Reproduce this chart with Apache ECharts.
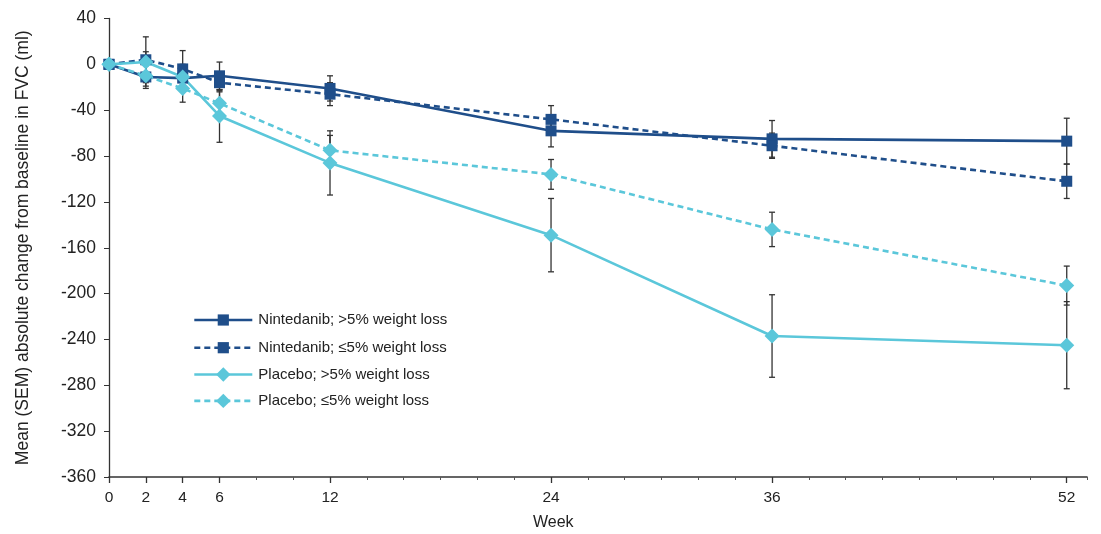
<!DOCTYPE html>
<html>
<head>
<meta charset="utf-8">
<script src="https://cdn.jsdelivr.net/npm/echarts@6/dist/echarts.min.js"></script>
<style>
  html, body { margin: 0; padding: 0; background: #fff; }
  #chart { width: 1101px; height: 534px; }
</style>
</head>
<body>
<div id="chart"></div>
<script>
// Study weeks at which FVC was measured
const weeks = [0, 2, 4, 6, 12, 24, 36, 52];
const weekTickLabels = [0, 2, 4, 6, 12, 24, 36, 52];

// Mean absolute change from baseline in FVC (ml)
const nintGt5 = [0, -11, -12, -10, -21, -58, -65, -67];
const nintLe5 = [0, 4, -4, -16, -26, -48, -71, -102];
const placGt5 = [0, 2, -11, -45, -86, -149, -237, -245];
const placLe5 = [0, -10, -21, -34, -75, -96, -144, -193];

// Standard error of the mean (ml)
const nintGt5Sem = [0, 10, 9, 12, 11, 14, 16, 20];
const nintLe5Sem = [0, 20, 16, 7, 10, 12, 11, 15];
const placGt5Sem = [0, 9, 11, 23, 28, 32, 36, 38];
const placLe5Sem = [0, 9, 12, 10, 13, 13, 15, 17];

const seriesNames = [
  'Nintedanib; >5% weight loss',
  'Nintedanib; \u22645% weight loss',
  'Placebo; >5% weight loss',
  'Placebo; \u22645% weight loss'
];

const DARK = '#1f4e8a';
const LIGHT = '#5bc7da';
const FONT = '"Liberation Sans", Arial, sans-serif';

function pairs(vals) {
  return weeks.map((w, i) => [w, vals[i]]);
}

function errorData(vals, sems) {
  return weeks.map((w, i) => [w, vals[i] - sems[i], vals[i] + sems[i]]);
}

// Vertical whisker with caps, positioned through the axis scales
function renderError(params, api) {
  const x = api.value(0);
  const lo = api.coord([x, api.value(1)]);
  const hi = api.coord([x, api.value(2)]);
  if (Math.abs(lo[1] - hi[1]) < 0.5) return null;
  const cap = 3;
  const style = { stroke: '#333333', lineWidth: 1.3 };
  return {
    type: 'group',
    children: [
      { type: 'line', shape: { x1: lo[0], y1: lo[1], x2: hi[0], y2: hi[1] }, style },
      { type: 'line', shape: { x1: lo[0] - cap, y1: lo[1], x2: lo[0] + cap, y2: lo[1] }, style },
      { type: 'line', shape: { x1: hi[0] - cap, y1: hi[1], x2: hi[0] + cap, y2: hi[1] }, style }
    ]
  };
}

function errorSeries(vals, sems) {
  return {
    type: 'custom',
    xAxisIndex: 0,
    yAxisIndex: 0,
    renderItem: renderError,
    data: errorData(vals, sems),
    z: 1,
    silent: true,
    encode: { x: 0, y: [1, 2] }
  };
}

function lineSeries(name, vals, color, dashed, symbol, size) {
  return {
    name: name,
    type: 'line',
    xAxisIndex: 0,
    yAxisIndex: 0,
    data: pairs(vals),
    symbol: symbol,
    symbolSize: size,
    showAllSymbol: true,
    lineStyle: { color: color, width: 2.6, type: dashed ? [6, 4] : 'solid' },
    itemStyle: { color: color },
    z: 3,
    animation: false
  };
}

// Legend block: square-marker rows and diamond-marker rows use their own icon heights
function legendBlock(top, names, itemHeight, gap) {
  return {
    orient: 'vertical',
    left: 188,
    top: top,
    itemWidth: 58,
    itemHeight: itemHeight,
    itemGap: gap,
    lineStyle: { width: 2.6 },
    textStyle: { fontFamily: FONT, fontSize: 15, color: '#222', padding: [0, 0, 0, 1] },
    data: names
  };
}

const chart = echarts.init(document.getElementById('chart'), null, { renderer: 'canvas' });

chart.setOption({
  animation: false,
  backgroundColor: '#ffffff',
  textStyle: { fontFamily: FONT },
  grid: { left: 109, top: 18.5, width: 978, height: 458.5, containLabel: false },
  legend: [
    legendBlock(307.5, seriesNames.slice(0, 2), 14, 12.7),
    legendBlock(362, seriesNames.slice(2, 4), 18, 11.4)
  ],
  xAxis: [
    {
      type: 'value',
      min: 0,
      max: 53.1,
      interval: 2,
      axisLine: { show: true, onZero: false, lineStyle: { color: '#333', width: 1.6 } },
      axisTick: { show: true, length: 3, lineStyle: { color: '#555', width: 1 } },
      axisLabel: {
        customValues: weekTickLabels,
        fontFamily: FONT,
        fontSize: 15.5,
        color: '#222',
        margin: 13
      },
      splitLine: { show: false }
    },
    {
      type: 'value',
      min: 0,
      max: 53.1,
      position: 'bottom',
      axisLine: { show: false, onZero: false },
      axisTick: { show: true, customValues: weekTickLabels, length: 6, lineStyle: { color: '#333', width: 1.3 } },
      axisLabel: { show: false },
      splitLine: { show: false }
    }
  ],
  yAxis: {
    type: 'value',
    min: -360,
    max: 40,
    interval: 40,
    name: 'Mean (SEM) absolute change from baseline in FVC (ml)',
    nameLocation: 'middle',
    nameGap: 77,
    nameTextStyle: { fontFamily: FONT, fontSize: 17.5, color: '#222' },
    axisLine: { show: true, onZero: false, lineStyle: { color: '#333', width: 1.3 } },
    axisTick: { show: true, length: 5, lineStyle: { color: '#333' } },
    axisLabel: { fontFamily: FONT, fontSize: 17.5, color: '#222', margin: 13 },
    splitLine: { show: false }
  },
  graphic: [
    {
      type: 'text',
      left: 533,
      top: 515,
      style: { text: 'Week', fontFamily: FONT, fontSize: 16, fill: '#222' }
    }
  ],
  series: [
    errorSeries(nintGt5, nintGt5Sem),
    errorSeries(nintLe5, nintLe5Sem),
    errorSeries(placGt5, placGt5Sem),
    errorSeries(placLe5, placLe5Sem),
    lineSeries(seriesNames[0], nintGt5, DARK, false, 'rect', 11),
    lineSeries(seriesNames[1], nintLe5, DARK, true, 'rect', 11),
    lineSeries(seriesNames[2], placGt5, LIGHT, false, 'diamond', 15),
    lineSeries(seriesNames[3], placLe5, LIGHT, true, 'diamond', 15)
  ]
});
</script>
</body>
</html>
